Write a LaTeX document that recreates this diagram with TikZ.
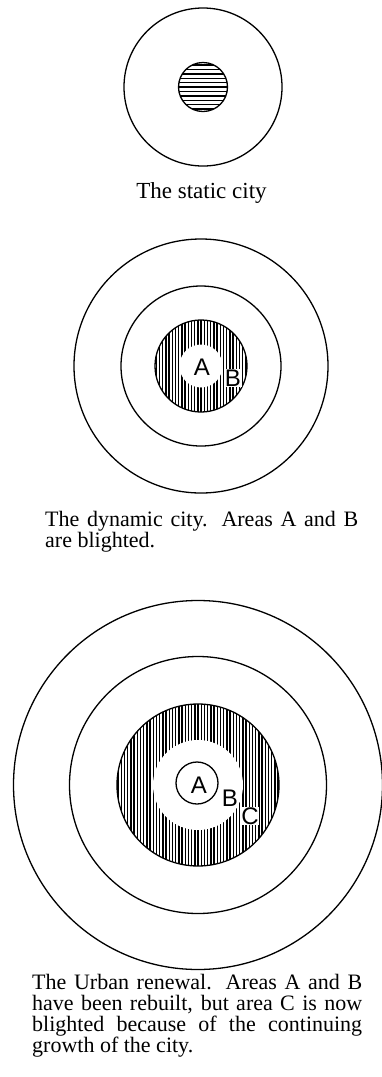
\documentclass[tikz,border=0pt]{standalone}
\usepackage{fontspec}
\setmainfont{Liberation Serif}
\newfontfamily\areafont{Liberation Sans}
\usetikzlibrary{positioning}
\newcommand\capfont{\fontsize{22}{20.7}\selectfont\lineskiplimit=-50pt\relax}

\tikzset{
  ring/.style={line width=1.3pt},
  hatchline/.style={line width=1.4pt},
  caption/.style={anchor=base west, inner sep=0pt, align=left, font=\capfont},
  area/.style={font=\areafont\fontsize{24}{24}\selectfont, inner sep=0.6pt},
}

\begin{document}
\begin{tikzpicture}[x=1pt,y=-1pt]
  \useasboundingbox (0,0) rectangle (382,1077);

  % the static city
  \begin{scope}[shift={(203,87)}]
    \draw[ring] (0,0) circle (79);
    \begin{scope}
      \clip (0,0) circle (24.5);
      \foreach \k in {-5,...,5}
        \draw[hatchline] (-25,4.4*\k) -- (25,4.4*\k);
    \end{scope}
    \draw[ring] (0,0) circle (24.5);
  \end{scope}
  \node[anchor=base, inner sep=0pt, font=\fontsize{23}{20.7}\selectfont] (capA) at (201.5,198) {The static city};

  % the dynamic city
  \begin{scope}[shift={(201,366)}]
    \draw[ring] (0,0) circle (127);
    \draw[ring] (0,0) circle (80);
    \begin{scope}
      \clip (0,0) circle (46);
      \foreach \k in {-14,...,14}
        \draw[hatchline] (3.2*\k,-47) -- (3.2*\k,47);
    \end{scope}
    \draw[ring] (0,0) circle (46);
    \fill[white] (0,0) circle (21.5);
    \node[area] (dynA) at (1,1) {A};
    \node[area, fill=white] (dynB) at (32,12) {B};
  \end{scope}
  % base anchor sits on the last line
  \node[caption] (capB) at (45,547) {%
    \makebox[313pt][s]{The dynamic city. Areas A and B}\\
    are blighted.};

  % urban renewal
  \begin{scope}[shift={(198,785)}]
    \draw[ring] (0,0) circle (184.5);
    \draw[ring] (0,0) circle (128.5);
    \begin{scope}
      \clip (0,0) circle (81);
      \foreach \k in {-25,...,25}
        \draw[hatchline] (3.2*\k,-82) -- (3.2*\k,82);
    \end{scope}
    \draw[ring] (0,0) circle (81);
    \fill[white] (0,0) circle (45);
    \draw[ring] (-1,-2) circle (21);
    \node[area] (renA) at (1,0) {A};
    \node[area, fill=white] (renB) at (32,13) {B};
    \node[area, fill=white] (renC) at (52,31) {C};
  \end{scope}
  \node[caption] (capC) at (32,1052) {%
    \makebox[330pt][s]{The Urban renewal. Areas A and B}\\
    \makebox[330pt][s]{have been rebuilt, but area C is now}\\
    \makebox[330pt][s]{blighted because of the continuing}\\
    growth of the city.};
\end{tikzpicture}
\end{document}
